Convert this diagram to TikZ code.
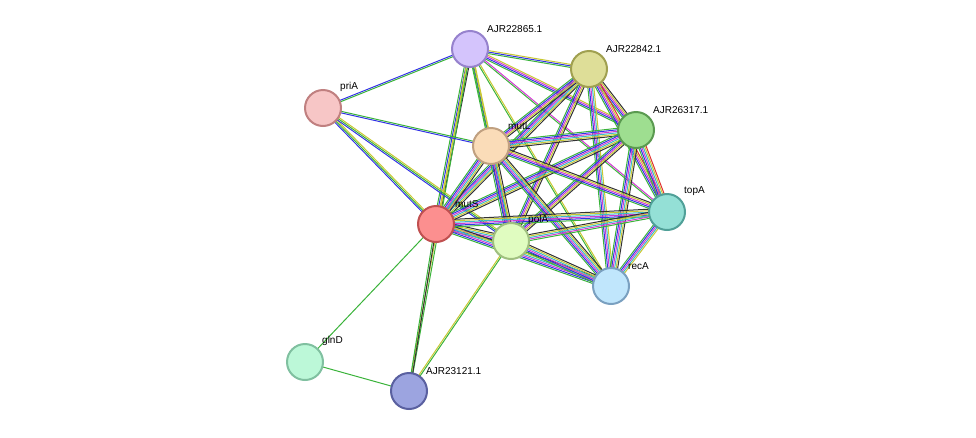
\documentclass[tikz,border=0pt]{standalone}
\usetikzlibrary{calc}
\usepackage{fontspec}
\setmainfont{Liberation Sans}
\definecolor{cg}{HTML}{3AB33A}
\definecolor{cb}{HTML}{3232E6}
\definecolor{cy}{HTML}{C8C832}
\definecolor{ck}{HTML}{333333}
\definecolor{cm}{HTML}{D23AD2}
\definecolor{cc}{HTML}{3AB8C8}
\definecolor{cr}{HTML}{E03030}
\newcommand\sedge[4]{%
  \foreach \c [count=\i] in {#4} {%
    \pgfmathsetmacro\off{((\i-1)-(#3-1)/2)*1.5}%
    \draw[color=\c,line width=1pt] ($(#1)!\off pt!90:(#2)$) -- ($(#2)!\off pt!-90:(#1)$);
  }}
\tikzset{prot/.style={circle,minimum size=36pt,inner sep=0pt,line width=2pt},
  lab/.style={font=\fontsize{10}{11}\selectfont,anchor=south west,inner sep=1pt}}
\begin{document}
\begin{tikzpicture}[x=1pt,y=-1pt]
\useasboundingbox (0,0) rectangle (976,437);
\coordinate (n1) at (470,49);
\coordinate (n2) at (589,69);
\coordinate (pr) at (323,108);
\coordinate (n3) at (636,130);
\coordinate (ml) at (491,146);
\coordinate (ta) at (667,212);
\coordinate (ms) at (436,224);
\coordinate (pa) at (511,241);
\coordinate (ra) at (611,286);
\coordinate (gd) at (305,362);
\coordinate (n4) at (409,391);
\sedge{n1}{n2}{3}{cg,cb,cy}
\sedge{n1}{n3}{4}{cg,cb,cm,cy}
\sedge{n1}{pr}{2}{cb,cg}
\sedge{n1}{ms}{4}{cg,cb,cy,ck}
\sedge{n1}{pa}{3}{cg,cb,cy}
\sedge{n1}{ra}{2}{cg,cy}
\sedge{n1}{ml}{2}{cg,cy}
\sedge{n1}{ta}{2}{cg,cm}
\sedge{n1}{n4}{2}{cy,cg}
\sedge{pr}{ms}{3}{cb,cg,cy}
\sedge{pr}{pa}{3}{cb,cg,cy}
\sedge{pr}{ml}{2}{cb,cg}
\sedge{n2}{n3}{5}{cg,cb,cm,cy,ck}
\sedge{n2}{ms}{6}{cg,cb,cm,cc,cy,ck}
\sedge{n2}{pa}{5}{cg,cb,cm,cy,ck}
\sedge{n2}{ra}{5}{cg,cb,cm,cc,cy}
\sedge{n2}{ta}{5}{cg,cb,cm,cy,cr}
\sedge{n2}{ml}{5}{cg,cb,cm,cy,ck}
\sedge{n3}{ml}{6}{cg,cb,cm,cc,cy,ck}
\sedge{n3}{ms}{6}{cg,cb,cm,cc,cy,ck}
\sedge{n3}{pa}{5}{cg,cb,cm,cy,ck}
\sedge{n3}{ra}{6}{cg,cb,cm,cc,cy,ck}
\sedge{n3}{ta}{6}{cg,cb,cm,cc,cy,cr}
\sedge{ml}{ms}{6}{cg,cb,cm,cc,cy,ck}
\sedge{ml}{pa}{6}{cg,cb,cm,cc,cy,ck}
\sedge{ml}{ra}{6}{cg,cb,cm,cc,cy,ck}
\sedge{ml}{ta}{5}{cg,cb,cm,cy,ck}
\sedge{ms}{pa}{6}{cg,cb,cm,cc,cy,ck}
\sedge{ms}{ra}{6}{cg,cb,cm,cc,cy,ck}
\sedge{ms}{ta}{6}{cg,cb,cm,cc,cy,ck}
\sedge{ms}{gd}{1}{cg}
\sedge{ms}{n4}{2}{cg,ck}
\sedge{pa}{ra}{6}{cg,cb,cm,cc,cy,ck}
\sedge{pa}{ta}{5}{cg,cm,cc,cy,ck}
\sedge{pa}{n4}{2}{cy,cg}
\sedge{ta}{ra}{5}{cg,cb,cm,cc,cy}
\sedge{gd}{n4}{1}{cg}
\node[prot,fill={rgb,255:red,212;green,196;blue,252},draw={rgb,255:red,150;green,130;blue,205}] (a1) at (n1) {};
\node[prot,fill={rgb,255:red,222;green,222;blue,152},draw={rgb,255:red,160;green,160;blue,80}] (a2) at (n2) {};
\node[prot,fill={rgb,255:red,247;green,198;blue,198},draw={rgb,255:red,192;green,128;blue,128}] (a3) at (pr) {};
\node[prot,fill={rgb,255:red,158;green,222;blue,144},draw={rgb,255:red,90;green,154;blue,80}] (a4) at (n3) {};
\node[prot,fill={rgb,255:red,250;green,220;blue,184},draw={rgb,255:red,192;green,160;blue,128}] (a5) at (ml) {};
\node[prot,fill={rgb,255:red,148;green,224;blue,214},draw={rgb,255:red,80;green,160;blue,152}] (a6) at (ta) {};
\node[prot,fill={rgb,255:red,252;green,143;blue,143},draw={rgb,255:red,192;green,80;blue,80}] (a7) at (ms) {};
\node[prot,fill={rgb,255:red,224;green,252;blue,192},draw={rgb,255:red,160;green,192;blue,128}] (a8) at (pa) {};
\node[prot,fill={rgb,255:red,192;green,230;blue,252},draw={rgb,255:red,122;green,160;blue,192}] (a9) at (ra) {};
\node[prot,fill={rgb,255:red,188;green,248;blue,216},draw={rgb,255:red,128;green,192;blue,160}] (a10) at (gd) {};
\node[prot,fill={rgb,255:red,156;green,164;blue,224},draw={rgb,255:red,90;green,96;blue,160}] (a11) at (n4) {};
\node[lab] (l1) at (486,34) {AJR22865.1};
\node[lab] (l2) at (605,54) {AJR22842.1};
\node[lab] (l3) at (339,93) {priA};
\node[lab] (l4) at (652,115) {AJR26317.1};
\node[lab] (l5) at (507,131) {mutL};
\node[lab] (l6) at (683,197) {topA};
\node[lab] (l7) at (454,209) {mutS};
\node[lab] (l8) at (527,226) {polA};
\node[lab] (l9) at (627,271) {recA};
\node[lab] (l10) at (321,347) {glnD};
\node[lab] (l11) at (425,376) {AJR23121.1};
\end{tikzpicture}
\end{document}
